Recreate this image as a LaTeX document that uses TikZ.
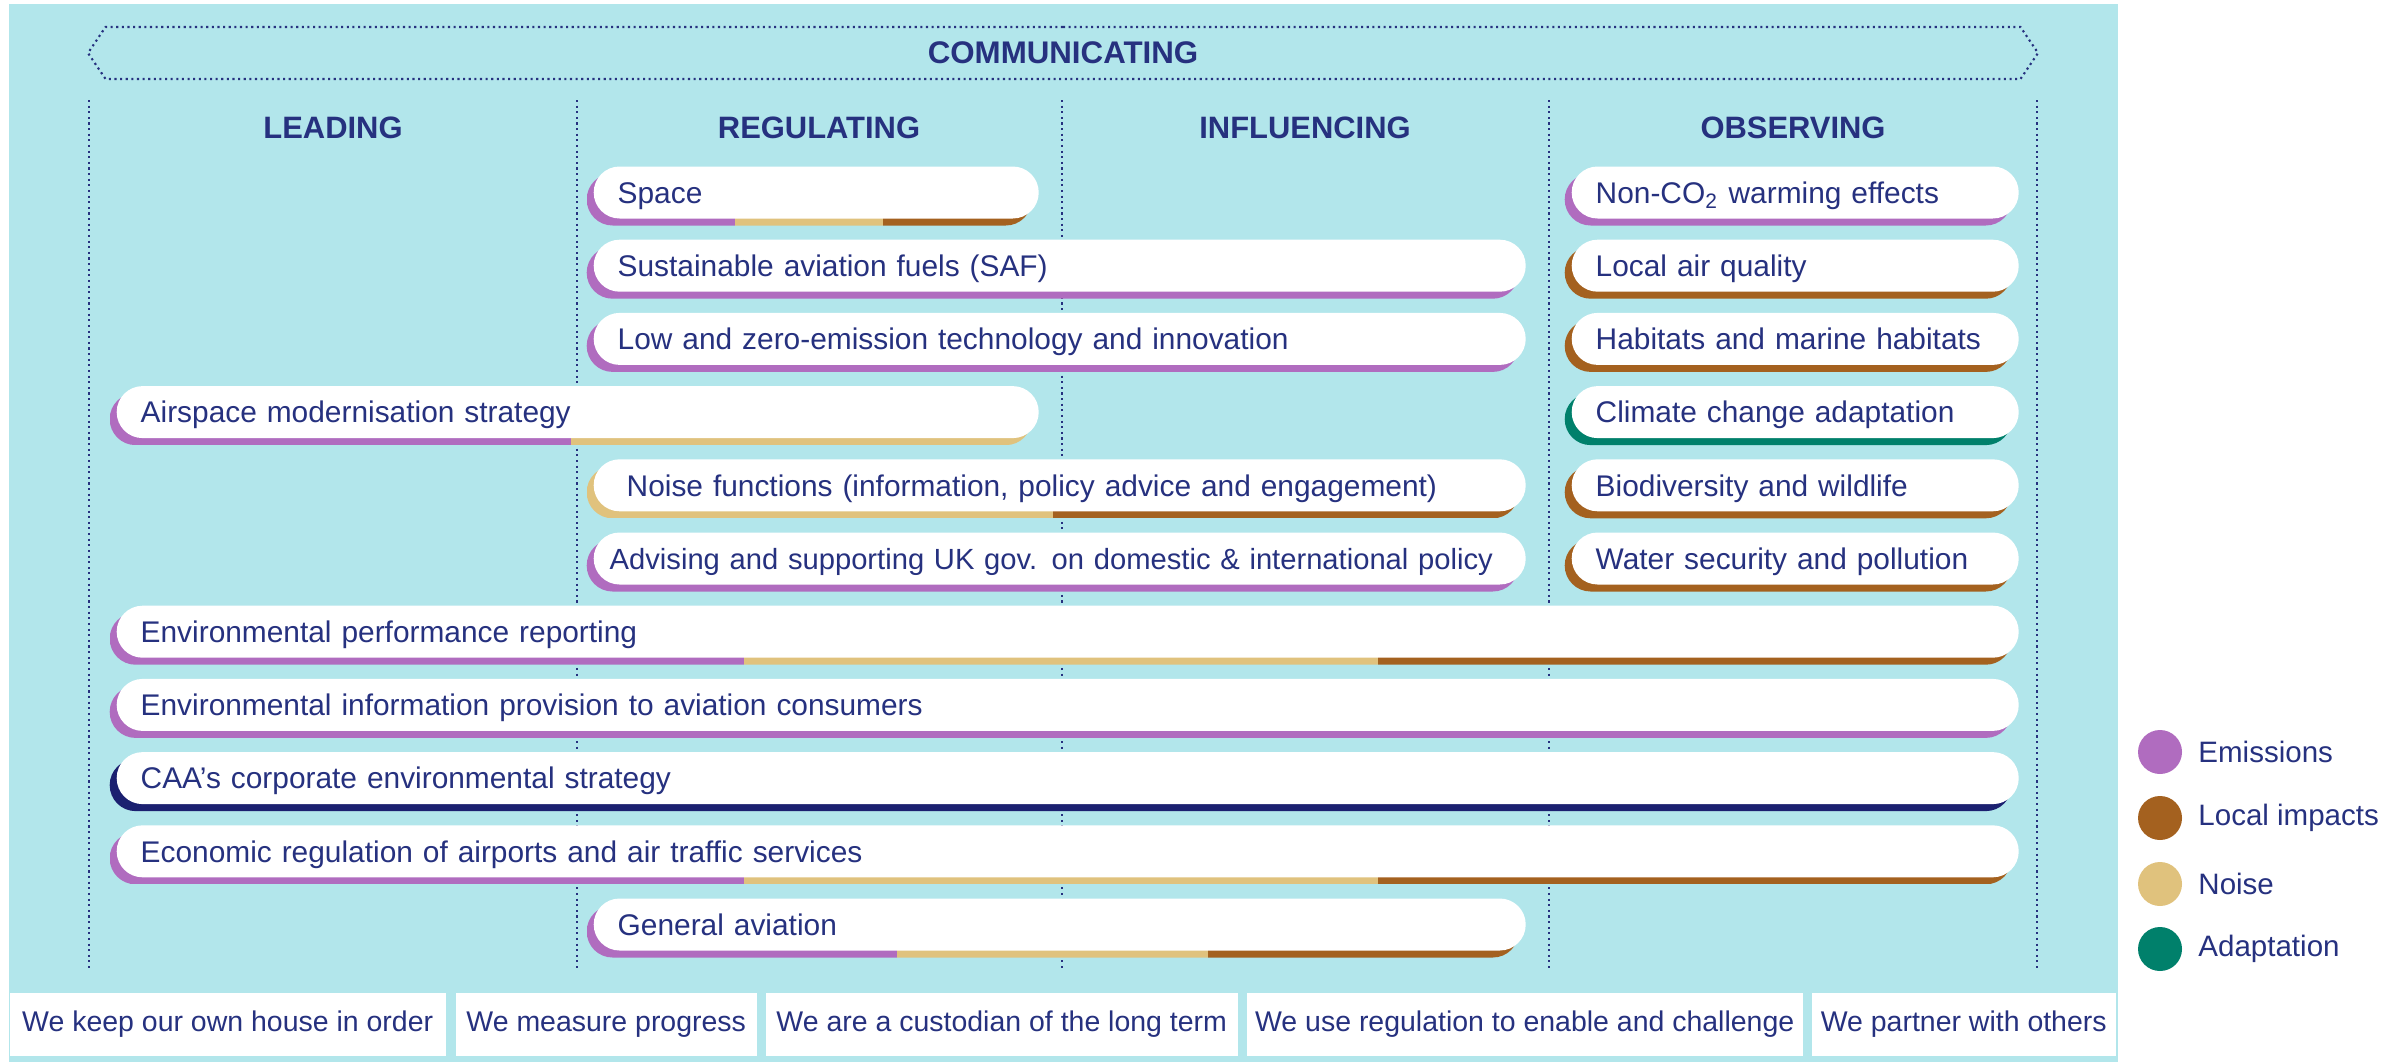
\documentclass[tikz,border=0pt]{standalone}
\usepackage{fontspec}
\setmainfont{Liberation Sans}
\usepackage{xcolor}
\usepackage{tikz}
\usetikzlibrary{shapes.symbols, positioning, calc}

\definecolor{panel}{HTML}{B2E6EB}
\definecolor{navy}{HTML}{26317F}
\definecolor{emis}{HTML}{B06CBF}
\definecolor{local}{HTML}{A4611F}
\definecolor{noise}{HTML}{E0C27D}
\definecolor{adapt}{HTML}{00806B}
\definecolor{corp}{HTML}{1B2070}

\tikzset{
	%
	% Coloured rim under a pill: one colour.
	%
	ONE/.style={
		preaction={fill=#1, transform canvas={shift={(-0.07,-0.07)}}}
	},
	%
	% Two colours, half and half.
	%
	TWO/.style 2 args={
		preaction={transform canvas={shift={(-0.07,-0.07)}},
			path picture={
				\fill[#1, sharp corners] (path picture bounding box.south west) rectangle (path picture bounding box.north);
				\fill[#2, sharp corners] (path picture bounding box.south) rectangle (path picture bounding box.north east);
			}}
	},
	%
	% Three colours, in thirds.
	%
	THREE/.style n args={3}{
		preaction={transform canvas={shift={(-0.07,-0.07)}},
			path picture={
				\fill[#1, sharp corners] (path picture bounding box.south west) rectangle ($(path picture bounding box.north west)!0.3333!(path picture bounding box.north east)$);
				\fill[#2, sharp corners] ($(path picture bounding box.south west)!0.3333!(path picture bounding box.south east)$) rectangle ($(path picture bounding box.north west)!0.6667!(path picture bounding box.north east)$);
				\fill[#3, sharp corners] ($(path picture bounding box.south west)!0.6667!(path picture bounding box.south east)$) rectangle (path picture bounding box.north east);
			}}
	},
}
\tikzstyle{PILL}   = [fill=white,          % white pill
                      rectangle,
                      rounded corners=0.259cm,  % round ends
                      minimum height=0.52cm,
                      inner ysep=0pt, inner xsep=0.24cm,
                      text height=6.1pt, text depth=0pt,
                      align=left, anchor=west, text=navy,
                      font=\fontsize{8.5}{0}\selectfont]
\tikzstyle{SHORT}  = [PILL, text width=3.97cm]
\tikzstyle{MID}    = [PILL, text width=8.84cm]
\tikzstyle{OBS}    = [PILL, text width=3.99cm]
\tikzstyle{WIDE}   = [PILL, text width=8.74cm]
\tikzstyle{FULL}   = [PILL, text width=18.54cm]
\tikzstyle{HEAD}   = [text=navy, inner sep=0pt,
                      font=\bfseries\fontsize{8.8}{0}\selectfont]
\tikzstyle{BANNER} = [signal, signal to=west and east,
                      signal pointer angle=112,
                      draw=navy, densely dotted, line width=0.6pt,
                      minimum width=19.5cm, minimum height=0.52cm,
                      inner sep=0pt, text=navy,
                      font=\bfseries\fontsize{8.9}{0}\selectfont]
\tikzstyle{COL}    = [navy, densely dotted, line width=0.6pt]
\tikzstyle{VALUE}  = [fill=white, rectangle, anchor=west,
                      minimum height=0.63cm, inner sep=0pt, text=navy,
                      font=\fontsize{8.1}{0}\selectfont]
\tikzstyle{DOT}    = [circle, minimum size=0.44cm, inner sep=0pt]
\tikzstyle{KEY}    = [text=navy, inner sep=0pt,
                      font=\fontsize{8.4}{0}\selectfont]

\begin{document}
\begin{tikzpicture}

		\useasboundingbox (0,0) rectangle (24.05,-10.62);

		% Background panel
		\fill[panel] (0.09,-0.04) rectangle (21.18,-10.62);


		% Communicating banner
		\node(comm)[BANNER] at (10.63,-0.53) {COMMUNICATING};


		% Column separators
		\draw[COL] (0.89,-1.00) -- (0.89,-9.70);
		\draw[COL] (5.77,-1.00) -- (5.77,-9.70);
		\draw[COL] (10.62,-1.00) -- (10.62,-9.70);
		\draw[COL] (15.49,-1.00) -- (15.49,-9.70);
		\draw[COL] (20.37,-1.00) -- (20.37,-9.70);


		% Column headers
		\node(leading)[HEAD] at (3.33,-1.28) {LEADING};
		\node(regulating)[HEAD] at (8.19,-1.28) {REGULATING};
		\node(influencing)[HEAD] at (13.05,-1.28) {INFLUENCING};
		\node(observing)[HEAD] at (17.93,-1.28) {OBSERVING};



		% Regulating and influencing
		\node(space)[SHORT, THREE={emis}{noise}{local}] at (5.93,-1.925)
		{
			Space
		};
		\node(saf)[MID, ONE=emis] at (5.93,-2.657)
		{
			Sustainable aviation fuels (SAF)
		};
		\node(lowzero)[MID, ONE=emis] at (5.93,-3.389)
		{
			Low and zero-emission technology and innovation
		};
		\node(noisefn)[MID, TWO={noise}{local}, inner xsep=0.33cm, text width=8.66cm] at (5.93,-4.853)
		{
			Noise functions (information, policy advice and engagement)
		};
		\node(advising)[MID, ONE=emis, inner xsep=0.16cm, text width=9.0cm,
		font=\fontsize{8.3}{0}\selectfont] at (5.93,-5.585)
		{
			\mbox{Advising and supporting UK gov. on domestic \& international policy}
		};
		\node(general)[MID, THREE={emis}{noise}{local}] at (5.93,-9.245)
		{
			General aviation
		};



		% Leading
		\node(airspace)[WIDE, TWO={emis}{noise}] at (1.16,-4.121)
		{
			Airspace modernisation strategy
		};



		% Observing
		\node(nonco)[OBS, ONE=emis] at (15.71,-1.925)
		{
			Non-CO\textsubscript{2} warming effects
		};
		\node(airq)[OBS, ONE=local] at (15.71,-2.657)
		{
			Local air quality
		};
		\node(habitat)[OBS, ONE=local] at (15.71,-3.389)
		{
			Habitats and marine habitats
		};
		\node(climate)[OBS, ONE=adapt] at (15.71,-4.121)
		{
			Climate change adaptation
		};
		\node(biodiv)[OBS, ONE=local] at (15.71,-4.853)
		{
			Biodiversity and wildlife
		};
		\node(water)[OBS, ONE=local] at (15.71,-5.585)
		{
			Water security and pollution
		};



		% Across all columns
		\node(envperf)[FULL, THREE={emis}{noise}{local}] at (1.16,-6.317)
		{
			Environmental performance reporting
		};
		\node(envinfo)[FULL, ONE=emis] at (1.16,-7.049)
		{
			Environmental information provision to aviation consumers
		};
		\node(corporate)[FULL, ONE=corp] at (1.16,-7.781)
		{
			CAA’s corporate environmental strategy
		};
		\node(economic)[FULL, THREE={emis}{noise}{local}] at (1.16,-8.513)
		{
			Economic regulation of airports and air traffic services
		};



		% Values along the bottom
		\node(house)[VALUE, minimum width=4.36cm] at (0.09,-10.245) {We keep our own house in order};
		\node(progress)[VALUE, minimum width=3.01cm] at (4.55,-10.245) {We measure progress};
		\node(custodian)[VALUE, minimum width=4.72cm] at (7.65,-10.245) {We are a custodian of the long term};
		\node(enable)[VALUE, minimum width=5.56cm] at (12.46,-10.245) {We use regulation to enable and challenge};
		\node(partner)[VALUE, minimum width=3.04cm] at (18.11,-10.245) {We partner with others};



		% Legend
		\node(emisdot)[DOT, fill=emis] at (21.60,-7.52) {};
		\node(emiskey)[KEY, right=0.15cm of emisdot] {Emissions};
		\node(localdot)[DOT, fill=local] at (21.60,-8.18) {};
		\node(localkey)[KEY, right=0.15cm of localdot] {Local impacts};
		\node(noisedot)[DOT, fill=noise] at (21.60,-8.84) {};
		\node(noisekey)[KEY, right=0.15cm of noisedot] {Noise};
		\node(adaptdot)[DOT, fill=adapt] at (21.60,-9.49) {};
		\node(adaptkey)[KEY, right=0.15cm of adaptdot] {Adaptation};

\end{tikzpicture}
\end{document}
